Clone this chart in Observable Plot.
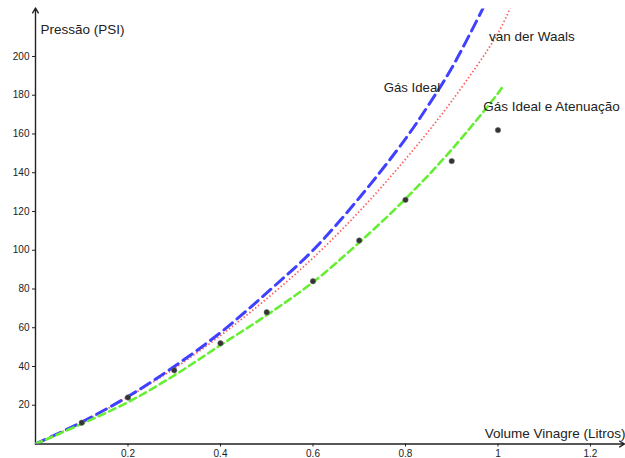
<!DOCTYPE html>
<html>
<head>
<meta charset="utf-8">
<script src="https://cdn.jsdelivr.net/npm/d3@7"></script>
<script src="https://cdn.jsdelivr.net/npm/@observablehq/plot@0.6"></script>
<style>
  html, body { margin: 0; padding: 0; background: #fff; }
</style>
</head>
<body>
<div id="chart"></div>
<script>
// Measured data (vinegar volume in litres vs pressure in PSI)
const volumes   = [0.1, 0.2, 0.3, 0.4, 0.5, 0.6, 0.7, 0.8, 0.9, 1.0];
const pressures = [11, 24, 38, 52, 68, 84, 105, 126, 146, 162];

// Model curves
const idealX = [0, 0.1, 0.2, 0.3, 0.4, 0.5, 0.6, 0.7, 0.8, 0.85, 0.9, 0.97];
const idealY = [0, 11.3, 24.5, 40, 57.5, 78, 100, 127, 157.5, 175, 194, 226];

const vdwX = [0, 0.1, 0.2, 0.3, 0.4, 0.5, 0.6, 0.7, 0.8, 0.9, 1.0, 1.03];
const vdwY = [0, 11.2, 24.2, 39, 56, 75, 96, 120, 147, 177, 212, 227];

const attX = [0, 0.1, 0.2, 0.3, 0.4, 0.5, 0.6, 0.7, 0.8, 0.9, 1.0, 1.013];
const attY = [0, 10.4, 21.6, 35.4, 51, 66.5, 83.5, 104, 126.5, 152, 181, 185.5];

const xTicks = [0.2, 0.4, 0.6, 0.8, 1, 1.2];
const yTicks = [20, 40, 60, 80, 100, 120, 140, 160, 180, 200];

const xMax = 1.2714, yMax = 224.5;

const points = volumes.map((v, i) => ({v, p: pressures[i]}));
const ideal = idealX.map((v, i) => ({v, p: idealY[i]}));
const vdw = vdwX.map((v, i) => ({v, p: vdwY[i]}));
const att = attX.map((v, i) => ({v, p: attY[i]}));

const ink = "#222";
const chart = Plot.plot({
  width: 625,
  height: 458,
  marginLeft: 35,
  marginRight: 2,
  marginTop: 8.5,
  marginBottom: 14.5,
  x: {domain: [0, xMax]},
  y: {domain: [0, yMax]},
  style: {fontFamily: "'Liberation Sans', Arial, sans-serif", fontSize: "10px", background: "white", color: ink},
  marks: [
    Plot.axisX({ticks: xTicks, tickSize: 3, tickPadding: 3, tickFormat: d => String(d), label: null, stroke: ink}),
    Plot.axisY({ticks: yTicks, tickSize: 3, tickPadding: 3, tickFormat: d => String(d), label: null, stroke: ink}),
    Plot.arrow([{x1: 0, y1: 0, x2: xMax, y2: 0}], {x1: "x1", y1: "y1", x2: "x2", y2: "y2", stroke: ink, strokeWidth: 1.4, headLength: 6, bend: 0, insetEnd: -1}),
    Plot.arrow([{x1: 0, y1: 0, x2: 0, y2: yMax}], {x1: "x1", y1: "y1", x2: "x2", y2: "y2", stroke: ink, strokeWidth: 1.4, headLength: 6, bend: 0, insetEnd: -1}),
    Plot.line(vdw, {x: "v", y: "p", curve: "catmull-rom", stroke: "#ff5c5c", strokeWidth: 1.7, strokeDasharray: "1.5,2.2", strokeLinecap: "butt", clip: true}),
    Plot.line(ideal, {x: "v", y: "p", curve: "catmull-rom", stroke: "#4040ff", strokeWidth: 3, strokeDasharray: "11,6", clip: true}),
    Plot.line(att, {x: "v", y: "p", curve: "catmull-rom", stroke: "#66ee33", strokeWidth: 2.6, strokeDasharray: "7,4.5", clip: true}),
    Plot.dot(points, {x: "v", y: "p", r: 2.7, fill: "#333", stroke: "#666", strokeWidth: 0.6}),
    Plot.text(["Pressão (PSI)"], {x: 0.011, y: 214, text: d => d, textAnchor: "start", fontSize: 13.5, fill: ink}),
    Plot.text(["Gás Ideal"], {x: 0.753, y: 184, text: d => d, textAnchor: "start", fontSize: 13.2, fill: ink}),
    Plot.text(["van der Waals"], {x: 0.9806, y: 210, text: d => d, textAnchor: "start", fontSize: 13.5, fill: ink}),
    Plot.text(["Gás Ideal e Atenuação"], {x: 0.968, y: 174.2, text: d => d, textAnchor: "start", fontSize: 13.5, fill: ink}),
    Plot.text(["Volume Vinagre (Litros)"], {x: xMax, y: 5.3, dx: 2, text: d => d, textAnchor: "end", fontSize: 13.5, fill: ink})
  ]
});
document.getElementById("chart").appendChild(chart);
</script>
</body>
</html>
